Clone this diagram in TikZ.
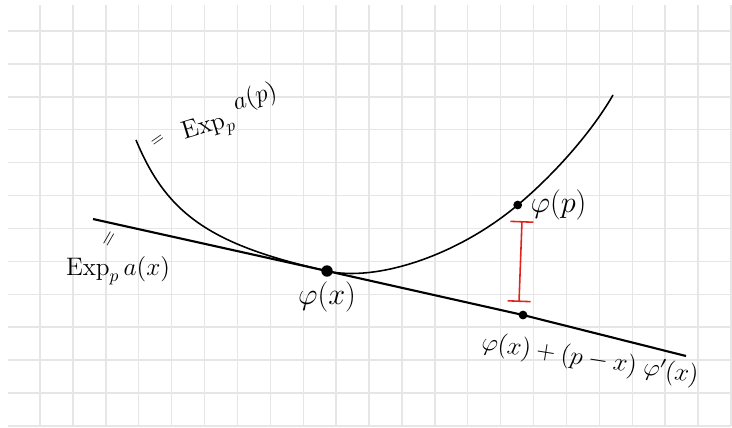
\documentclass[tikz,border=0pt]{standalone}
\usepackage{amsmath,amssymb}
\usepackage{xcolor}
\usepackage{tikz}
\usetikzlibrary{arrows.meta,positioning}
\definecolor{gridgray}{HTML}{E6E6E6}
\definecolor{barred}{HTML}{E2231A}

\begin{document}
\begin{tikzpicture}[x=0.02cm,y=-0.02cm,node distance=1.5mm,
  gridline/.style={gridgray,line width=0.8pt},
  dot/.style={circle,fill,inner sep=0pt,minimum size=5pt},
  lbl/.style={inner sep=1pt},
  gap/.style={{Bar[width=4.6mm]}-{Bar[width=4.6mm]}, barred, line width=0.9pt}]
  \useasboundingbox[fill=white] (0,0) rectangle (732,427);
  \foreach \i in {0,...,21}
    \draw[gridline] ({40+32.9*\i},5) -- ({40+32.9*\i},426);
  \foreach \j in {0,...,12}
    \draw[gridline] (8,{31+32.9*\j}) -- (731,{31+32.9*\j});
  \coordinate (C0) at (136,140);
  \coordinate (C1) at (613,95);
  \coordinate (L0) at (93,219);
  \coordinate (L1) at (686,356);
  \coordinate (B0) at (522,221);
  \coordinate (B1) at (519,302);
  \node[dot, minimum size=6.5pt] (X) at (327,271) {};
  \node[dot] (P) at (517.7,205) {};
  \node[dot] (T) at (523,315) {};
  \node[lbl, right=1.2mm of P, font=\LARGE] (Pl) {$\varphi(p)$};
  \node[lbl, below=0.5mm of X, font=\LARGE] (Xl) {$\varphi(x)$};
  \node[lbl, rotate=-9, font=\Large] (Tl) at (590,360) {$\varphi(x)+(p-x)\;\varphi'(x)$};
  \node[lbl, font=\Large] (El) at (118,271) {$\mathrm{Exp}_p\,a(x)$};
  \node[lbl, rotate=60, font=\large] (Eq1) at (110,240) {$=$};
  \node[lbl, rotate=17, font=\Large] (Ep) at (230,114)
    {$\mathrm{Exp}_p\,\raisebox{1.2ex}{$a(p)$}$};
  \node[lbl, rotate=35] (Eq2) at (158,141) {$=$};
  \draw[line width=0.9pt] (C0) .. controls +(30.6,73.9) and +(-117.1,-26.2) .. (X.center)
    .. controls +(48.8,10.9) and +(-61.3,51.4) .. (P.center)
    .. controls +(34.5,-28.9) and +(-22.5,39) .. (C1);
  \draw[line width=1.2pt] (L0) -- (X.center) -- (T.center) -- (L1);
  \draw[gap] (B0) -- (B1);
\end{tikzpicture}
\end{document}
